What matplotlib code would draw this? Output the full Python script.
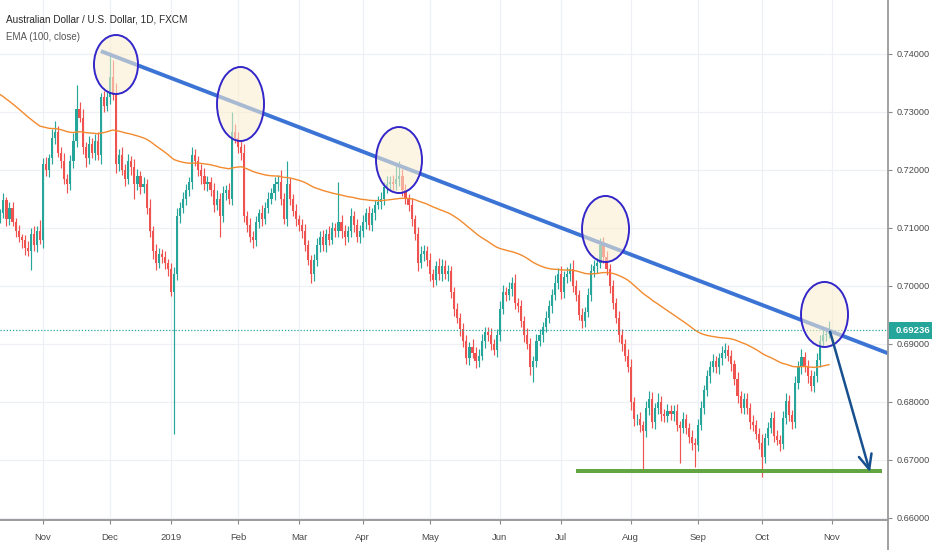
import numpy as np
import pandas as pd
import matplotlib
matplotlib.use("Agg")
import matplotlib.pyplot as plt
from matplotlib.patches import Ellipse, Rectangle
from matplotlib.lines import Line2D
from matplotlib.colors import to_rgba

# ---------------- data ----------------
first_day = "2018-10-12"
market_holidays = ["2018-12-25", "2019-01-01"]

first_open = 7118          # price in 1e-4 units
close_pips = [
    7125, 7148, 7115, 7135, 7110, 7095, 7085, 7080, 7065, 7060,
    7090, 7070, 7095, 7080, 7210, 7200, 7220, 7255, 7265, 7230,
    7215, 7185, 7175, 7215, 7250, 7305, 7290, 7240, 7220, 7245,
    7230, 7250, 7225, 7325, 7310, 7325, 7360, 7330, 7210, 7225,
    7200, 7185, 7215, 7205, 7175, 7190, 7170, 7175, 7135, 7095,
    7060, 7040, 7055, 7050, 7040, 7030, 6990, 7020, 7120, 7135,
    7150, 7165, 7180, 7225, 7215, 7200, 7190, 7175, 7180, 7165,
    7140, 7150, 7120, 7160, 7165, 7150, 7265, 7255, 7240, 7230,
    7120, 7105, 7085, 7080, 7110, 7125, 7115, 7135, 7150, 7160,
    7175, 7180, 7150, 7115, 7175, 7150, 7130, 7115, 7105, 7095,
    7070, 7045, 7020, 7045, 7070, 7085, 7070, 7090, 7080, 7100,
    7095, 7110, 7095, 7085, 7095, 7120, 7105, 7085, 7095, 7110,
    7125, 7105, 7125, 7140, 7145, 7150, 7170, 7175, 7180, 7175,
    7185, 7190, 7165, 7150, 7140, 7115, 7090, 7040, 7055, 7060,
    7045, 7020, 7010, 7035, 7020, 7035, 7020, 7025, 6990, 6960,
    6945, 6925, 6905, 6875, 6895, 6885, 6870, 6880, 6905, 6920,
    6915, 6900, 6890, 6915, 6960, 6990, 6985, 6995, 7005, 6970,
    6965, 6940, 6915, 6900, 6860, 6870, 6905, 6915, 6930, 6945,
    6965, 6985, 7005, 7020, 6990, 7015, 7020, 7030, 7000, 6985,
    6950, 6940, 6955, 6985, 7025, 7035, 7040, 7070, 7050, 7030,
    7000, 6970, 6945, 6915, 6900, 6880, 6860, 6800, 6770, 6770,
    6760, 6750, 6790, 6805, 6765, 6790, 6800, 6780, 6775, 6785,
    6780, 6785, 6760, 6755, 6770, 6755, 6740, 6730, 6725, 6760,
    6790, 6820, 6845, 6860, 6870, 6860, 6875, 6885, 6890, 6880,
    6865, 6840, 6810, 6790, 6805, 6790, 6765, 6760, 6745, 6730,
    6705, 6738, 6755, 6772, 6742, 6735, 6728, 6773, 6802, 6778,
    6765, 6832, 6860, 6877, 6862, 6845, 6828, 6845, 6872, 6905,
    6915, 6918, 6924,
]
upper_wick = [
    8, 12, 6, 10, 9, 7, 11, 5, 8, 12, 10, 14, 9, 18, 10, 12, 8, 15, 20, 10,
    9, 14, 8, 11, 13, 41, 12, 15, 9, 14, 10, 12, 16, 8, 11, 10, 40, 30, 20, 12,
    15, 10, 12, 9, 14, 11, 8, 13, 10, 15, 9, 12, 10, 8, 11, 7, 10, 12, 14, 9,
    12, 10, 8, 15, 12, 9, 11, 14, 10, 8, 12, 15, 10, 13, 9, 12, 35, 14, 10, 12,
    15, 10, 12, 9, 11, 8, 14, 10, 12, 9, 13, 11, 20, 10, 40, 12, 9, 11, 8, 10,
    12, 9, 8, 11, 13, 10, 12, 8, 14, 10, 9, 70, 12, 10, 8, 14, 9, 11, 10, 12,
    9, 13, 10, 8, 11, 12, 10, 14, 9, 12, 25, 25, 12, 10, 9, 11, 8, 12, 14, 10,
    9, 12, 10, 8, 14, 11, 9, 12, 10, 8, 11, 9, 12, 10, 8, 13, 9, 11, 12, 10,
    9, 12, 8, 10, 14, 11, 9, 12, 10, 15, 9, 11, 8, 12, 10, 9, 13, 10, 8, 12,
    10, 9, 14, 11, 15, 10, 12, 9, 14, 10, 8, 12, 9, 11, 13, 10, 9, 12, 14, 10,
    8, 11, 9, 12, 10, 8, 11, 14, 9, 10, 12, 8, 11, 14, 12, 9, 15, 10, 8, 12,
    10, 9, 11, 8, 12, 10, 9, 11, 8, 10, 12, 9, 11, 10, 13, 9, 10, 12, 11, 9,
    10, 8, 12, 9, 11, 10, 8, 12, 9, 10, 14, 9, 11, 10, 12, 9, 8, 11, 13, 10,
    9, 12, 10, 14, 9, 11, 10, 8, 12, 10, 9, 11, 16,
]
lower_wick = [
    10, 8, 12, 9, 7, 11, 10, 14, 12, 9, 33, 10, 12, 8, 15, 10, 12, 9, 11, 8,
    12, 10, 14, 9, 11, 10, 8, 12, 15, 9, 10, 12, 8, 14, 10, 9, 12, 10, 15, 11,
    9, 12, 10, 14, 25, 10, 12, 9, 11, 10, 14, 12, 9, 11, 10, 12, 8, 245, 10, 12,
    9, 11, 10, 12, 8, 10, 14, 9, 11, 10, 12, 9, 35, 10, 12, 9, 11, 8, 10, 12,
    10, 12, 9, 15, 11, 10, 12, 8, 10, 9, 11, 12, 10, 8, 12, 10, 9, 11, 10, 12,
    10, 9, 15, 12, 10, 11, 9, 12, 10, 8, 11, 10, 12, 14, 9, 10, 12, 9, 11, 10,
    12, 9, 10, 11, 8, 12, 10, 9, 11, 10, 9, 12, 10, 8, 11, 12, 10, 14, 9, 12,
    10, 12, 11, 9, 10, 12, 8, 11, 10, 12, 9, 11, 10, 10, 12, 9, 11, 10, 8, 12,
    10, 11, 9, 12, 10, 8, 11, 10, 12, 9, 10, 11, 12, 9, 14, 25, 10, 9, 11, 10,
    9, 12, 10, 11, 12, 10, 9, 12, 10, 11, 9, 12, 10, 9, 11, 10, 12, 9, 10, 11,
    12, 10, 9, 11, 12, 10, 9, 14, 12, 10, 11, 68, 10, 12, 9, 11, 10, 12, 9, 10,
    11, 12, 10, 60, 9, 11, 10, 12, 37, 10, 9, 11, 10, 12, 9, 10, 11, 12, 10, 9,
    11, 10, 12, 9, 10, 11, 12, 10, 9, 11, 35, 10, 12, 9, 11, 10, 12, 9, 11, 10,
    12, 10, 9, 11, 10, 12, 9, 10, 11, 12, 10, 9, 8,
]
ema_period = 100
ema_start = 0.7334
last_price = 0.69236
price_ticks = [0.66, 0.67, 0.68, 0.69, 0.70, 0.71, 0.72, 0.73, 0.74]

title_text = "Australian Dollar / U.S. Dollar, 1D, FXCM"
indicator_text = "EMA (100, close)"

# drawings (bar index, price)
trend_start = (33.0, 0.7405)
trend_end = (291.4, 0.6884)
circle_x = [37.96, 78.84, 130.87, 198.67, 270.56]
circle_y = [0.73819, 0.73138, 0.72172, 0.70983, 0.69509]
circle_w = [14.45, 15.43, 15.10, 15.43, 15.43]
circle_h = [0.01017, 0.01276, 0.01138, 0.01138, 0.01121]
support_x = [189.0, 289.4]
support_y = 0.6681
arrow_from = (272.4, 0.6921)
arrow_to = (285.5, 0.6679)

# ---------------- build ----------------
n = min(len(close_pips), len(upper_wick), len(lower_wick))
c = np.array(close_pips[:n], float) / 1e4
o = np.concatenate([[first_open / 1e4], c[:-1]])
hi = np.maximum(o, c) + np.array(upper_wick[:n]) / 1e4
lo = np.minimum(o, c) - np.array(lower_wick[:n]) / 1e4
x = np.arange(n)

alpha = 2.0 / (ema_period + 1)
ema = np.empty(n)
prev = ema_start
for i in range(n):
    prev = prev + alpha * (c[i] - prev)
    ema[i] = prev

axis_days = pd.bdate_range(first_day, periods=300, freq="C", holidays=market_holidays)

W, H = 932, 550
fig = plt.figure(figsize=(W / 100, H / 100), dpi=100)
fig.patch.set_facecolor("white")
ax = fig.add_axes([0, 30 / H, 888 / W, 520 / H])
xmin, xmax = -0.118, 291.4
ymin, ymax = 0.659655, 0.74931
ax.set_xlim(xmin, xmax)
ax.set_ylim(ymin, ymax)

sans = ["Liberation Sans", "DejaVu Sans"]

# month ticks
tick_pos, tick_lab = [], []
for i in range(1, len(axis_days)):
    if axis_days[i].month != axis_days[i - 1].month and i <= xmax:
        tick_pos.append(i)
        d = axis_days[i]
        tick_lab.append(str(d.year) if d.month == 1 else d.strftime("%b"))

ax.set_xticks(tick_pos)
ax.set_xticklabels(tick_lab, fontfamily=sans, fontsize=6.8, color="#4a4a4a")
ax.set_yticks(price_ticks)
ax.set_yticklabels(["%.5f" % v for v in price_ticks], fontfamily=sans, fontsize=6.6,
                   color="#4a4a4a")
ax.yaxis.tick_right()
ax.tick_params(axis="y", length=3, width=0.8, color="#8a8a8a", pad=3.5)
ax.tick_params(axis="x", length=3, width=0.8, color="#8a8a8a", pad=6)
ax.grid(True, color="#eef0f5", lw=0.9)
ax.set_axisbelow(True)
for s in ["left", "top", "right"]:
    ax.spines[s].set_visible(False)
ax.spines["bottom"].set_color("#8a8a8a")
ax.spines["bottom"].set_linewidth(1.2)

up = c >= o
col = np.where(up, "#26a69a", "#ef5350")
ax.vlines(x, lo, hi, colors=col, lw=0.85, zorder=2)
ax.bar(x, np.maximum(np.abs(c - o), 0.00005), bottom=np.minimum(o, c), width=0.7,
       color=col, lw=0, zorder=2.1)

ax.plot(x, ema, color="#f28a2e", lw=1.0, zorder=3)
ax.axhline(last_price, color="#26a69a", lw=0.9, ls=(0, (1, 1.5)), zorder=3)

ax.plot([trend_start[0], trend_end[0]], [trend_start[1], trend_end[1]],
        color="#3c74d6", lw=2.8, solid_capstyle="butt", zorder=4)

for cx, cy, w, h in zip(circle_x, circle_y, circle_w, circle_h):
    ax.add_patch(Ellipse((cx, cy), w, h, facecolor=to_rgba("#fceed0", 0.57),
                         edgecolor="#3327c9", lw=1.4, zorder=5))

ax.plot(support_x, [support_y, support_y], color="#63a541", lw=2.9,
        solid_capstyle="butt", zorder=6)
ax.annotate("", xy=arrow_to, xytext=arrow_from,
            arrowprops=dict(arrowstyle="->,head_length=1.05,head_width=0.47",
                            color="#17508f", lw=1.8, shrinkA=0, shrinkB=0),
            zorder=6)

# right price axis line (full height)
fig.add_artist(Line2D([888 / W, 888 / W], [0, 1], transform=fig.transFigure,
                      color="#9a9a9a", lw=1.3, zorder=8))

# last price badge
yb = 30 / H + (last_price - ymin) / (ymax - ymin) * 520 / H
fig.add_artist(Rectangle((888.5 / W, yb - 8.5 / H), 43.5 / W, 17 / H,
                         transform=fig.transFigure, facecolor="#26a69a",
                         edgecolor="none", zorder=10))
fig.text(896 / W, yb, "%.5f" % last_price, color="white", fontsize=6.8,
         fontweight="bold", fontfamily=sans, va="center", ha="left", zorder=11)

fig.text(6 / W, 1 - 22.5 / H, title_text, fontsize=7.2, color="#2a2a2a",
         fontfamily=sans, va="baseline", ha="left")
fig.text(6 / W, 1 - 40.5 / H, indicator_text, fontsize=7.0, color="#555555",
         fontfamily=sans, va="baseline", ha="left")

fig.savefig("out.png", dpi=100, facecolor="white")
